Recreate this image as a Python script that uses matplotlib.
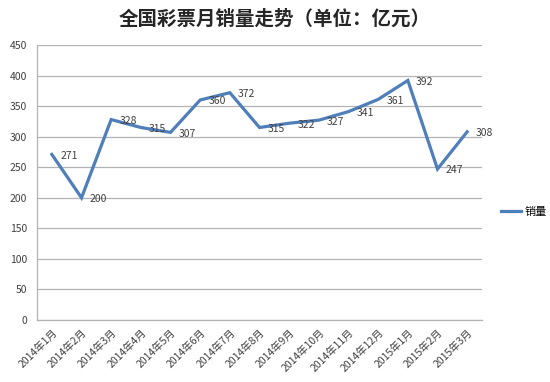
import matplotlib
matplotlib.use("Agg")
import matplotlib.pyplot as plt

plt.rcParams['font.family'] = ['Noto Sans CJK SC', 'DejaVu Sans']

months = ['2014年1月', '2014年2月', '2014年3月', '2014年4月', '2014年5月',
          '2014年6月', '2014年7月', '2014年8月', '2014年9月', '2014年10月',
          '2014年11月', '2014年12月', '2015年1月', '2015年2月', '2015年3月']
sales = [271, 200, 328, 315, 307, 360, 372, 315, 322, 327, 341, 361, 392, 247, 308]
yticks = [0, 50, 100, 150, 200, 250, 300, 350, 400, 450]

line_col = '#4F7FBA'
grid_col = '#B3B3B3'
txt_col = '#404040'

fig = plt.figure(figsize=(5.5, 3.82), dpi=100)
ax = fig.add_axes([37/550, 1-320/382, 445/550, 275/382])

xs = range(len(months))
ax.plot(xs, sales, color=line_col, lw=2.3, label='销量', solid_joinstyle='miter')
for x, v in zip(xs, sales):
    ax.annotate(str(v), (x, v), xytext=(6, -1), textcoords='offset points',
                ha='left', va='center', fontsize=7.5, color=txt_col)

ax.set_xlim(-0.5, len(months) - 0.5)
ax.set_ylim(0, 450)
ax.set_yticks(yticks)
ax.set_xticks(list(xs))
ax.set_xticklabels(months, rotation=45, ha='right', rotation_mode='anchor',
                   fontsize=7.5, color=txt_col)
ax.tick_params(axis='y', labelsize=7.5, colors=txt_col, length=0, pad=7)
ax.tick_params(axis='x', length=0, pad=5)
ax.yaxis.grid(True, color=grid_col, lw=0.9)
ax.set_axisbelow(True)
for s in ('top', 'right'):
    ax.spines[s].set_visible(False)
for s in ('left', 'bottom'):
    ax.spines[s].set_color(grid_col)
    ax.spines[s].set_linewidth(0.9)

ax.legend(loc='center left', bbox_to_anchor=(1.02, 0.393), frameon=False,
          fontsize=8, handlelength=1.8, handletextpad=0.3)

fig.suptitle('全国彩票月销量走势（单位：亿元）', x=0.5, y=0.975, fontsize=14,
             fontweight='bold', color='#262626')

fig.savefig('out.png', dpi=100)
